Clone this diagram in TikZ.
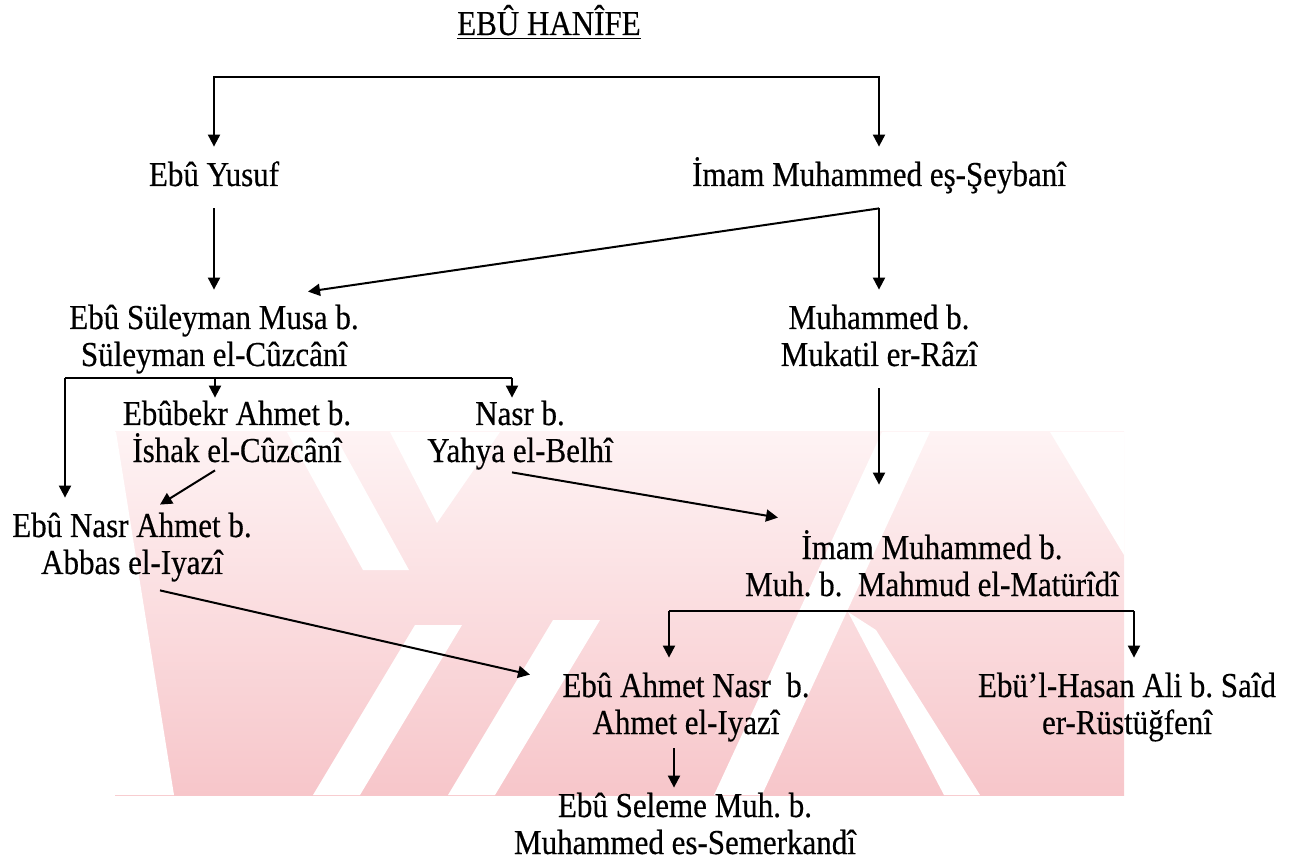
\documentclass[tikz,border=0pt]{standalone}
\usepackage{fontspec}
\setmainfont{Liberation Serif}[FakeStretch=0.886, FakeBold=0.4]
\usetikzlibrary{arrows.meta,calc}
\definecolor{wmtop}{RGB}{254,243,244}
\definecolor{wmbot}{RGB}{247,198,202}

\begin{document}
\frenchspacing
\begin{tikzpicture}[x=0.5pt, y=-0.5pt,
    person/.style={font=\fontsize{17.5pt}{18.5pt}\selectfont, align=center, anchor=base,
                   inner xsep=2pt, inner ysep=4pt, text height=15.5pt, text depth=7pt},
    person2/.style={person, text height=34pt},
    arr/.style={-{Triangle[length=6pt,width=6pt]}, line width=1pt},
    link/.style={line width=1pt},
    wmgap/.style={fill=white},
  ]
  \useasboundingbox (0,0) rectangle (1297,861);

  % watermark
  \begin{scope}
    \clip (115,432) rectangle (1124,795);
    \shade[top color=wmtop, bottom color=wmbot] (115,432) rectangle (1124,795);
    \fill[wmgap] (115,432) -- (116,432) -- (174,795) -- (115,795) -- cycle;
    \fill[wmgap] (390,432) -- (500,432) -- (437,523) -- cycle;
    \fill[wmgap] (287,432) -- (333,432) -- (409,570) -- (363,570) -- cycle;
    \fill[wmgap] (313,795) -- (360,795) -- (462,625) -- (415,625) -- cycle;
    \fill[wmgap] (448,795) -- (495,795) -- (600,620) -- (553,620) -- cycle;
    \fill[wmgap] (714,795) -- (762,795) -- (930,432) -- (882,432) -- cycle;
    \fill[wmgap] (848,612) -- (876,630) -- (980,795) -- (944,795) -- cycle;
    \fill[wmgap] (1050,432) -- (1124,432) -- (1124,555) -- cycle;
  \end{scope}

  % Ebu Hanife and his two students
  \node[person] (hanife) at (549,35) {\underline{EBÛ HANÎFE}};
  \node[person] (yusuf) at (214,186) {Ebû Yusuf};
  \node[person] (seybani) at (879,186) {İmam Muhammed eş-Şeybanî};

  \coordinate (b1) at (547,77);
  \draw[arr] (b1) -| (yusuf.north);
  \draw[arr] (b1) -| (seybani.north);

  % second generation
  \node[person2] (suleyman) at (214,366) {Ebû Süleyman Musa b.\\Süleyman el-Cûzcânî};
  \node[person2] (mukatil) at (879,366) {Muhammed b.\\Mukatil er-Râzî};

  \draw[arr] (yusuf) -- (suleyman);
  \draw[arr] (seybani) -- (mukatil);
  \draw[arr] (seybani.south) -- ($(suleyman.north)+(94,2)$);

  % students of el-Cuzcani
  \node[person2] (ebubekr) at (237,462) {Ebûbekr Ahmet b.\\İshak el-Cûzcânî};
  \node[person2] (nasr) at (520,462) {Nasr b.\\Yahya el-Belhî};
  \node[person2] (ebunasr) at (132,574) {Ebû Nasr Ahmet b.\\Abbas el-Iyazî};

  \coordinate (b2l) at (65,378);
  \coordinate (b2) at (215,378);
  \coordinate (b2r) at (512,378);
  \draw[link] (b2l) -- (b2r);
  \draw[arr] (b2l) -- (b2l |- ebunasr.north);
  \draw[arr] (b2) -- ($(b2 |- ebubekr.north)+(0,12)$);
  \draw[arr] (b2r) -- ($(b2r |- nasr.north)+(0,12)$);
  \draw[arr] ($(b2 |- ebubekr.south)+(0,-14)$) -- ($(ebunasr.north)+(28,7)$);

  % el-Maturidi
  \node[person2] (maturidi) at (932,596) {İmam Muhammed b.\\Muh. b.~ Mahmud el-Matürîdî};

  \draw[arr] (mukatil.south) -- ($(mukatil.south |- maturidi.north)+(0,-35)$);
  \draw[arr] ($(nasr.south)+(-8,-12)$) -- ($(maturidi.north)+(-154,-2)$);

  % students of el-Maturidi
  \node[person2] (ebuahmet) at (686,734) {Ebû Ahmet Nasr~ b.\\Ahmet el-Iyazî};
  \node[person2] (rustugfeni) at (1127,734) {Ebü’l-Hasan Ali b. Saîd\\er-Rüstüğfenî};

  \coordinate (b3l) at (669,611);
  \coordinate (b3r) at (1134,611);
  \draw[link] (b3l) -- (b3r);
  \draw[arr] (b3l) -- (b3l |- ebuahmet.north);
  \draw[arr] (b3r) -- (b3r |- rustugfeni.north);
  \draw[arr] ($(ebunasr.south)+(28,-6)$) -- ($(ebuahmet.north)+(-156,17)$);

  % last student
  \node[person2] (seleme) at (685,854) {Ebû Seleme Muh. b.\\Muhammed es-Semerkandî};
  \draw[arr] ($([xshift=-6pt]ebuahmet.south)+(0,-8)$) -- ($([xshift=-6pt]ebuahmet.south |- seleme.north)+(0,10)$);

\end{tikzpicture}
\end{document}
